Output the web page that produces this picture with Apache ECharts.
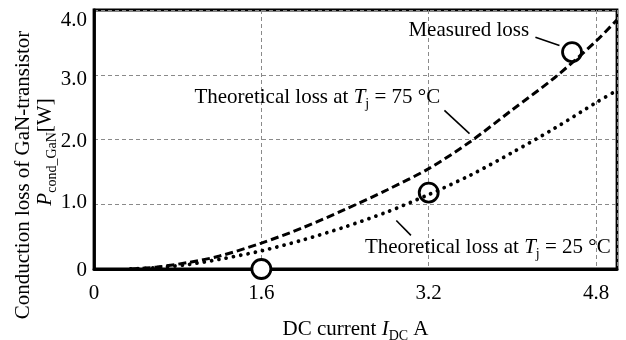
<!DOCTYPE html>
<html>
<head>
<meta charset="utf-8">
<script src="https://cdn.jsdelivr.net/npm/echarts@6/dist/echarts.min.js"></script>
<style>html,body{margin:0;padding:0;background:#fff;}#c{width:626px;height:340px;}</style>
</head>
<body>
<div id="c"></div>
<script>
// ---- data ----
const currentA = [0.35, 0.6, 0.9, 1.2, 1.6, 2.0, 2.4, 2.8, 3.2, 3.6, 4.0, 4.4, 4.8, 5.0];
const loss75 = [0, 0.03, 0.1, 0.2, 0.4, 0.64, 0.92, 1.22, 1.55, 1.97, 2.46, 2.95, 3.52, 3.85];
const loss25 = [0, 0.02, 0.07, 0.15, 0.28, 0.45, 0.65, 0.88, 1.15, 1.45, 1.8, 2.17, 2.57, 2.76];
const measuredI = [1.6, 3.2, 4.57];
const measuredP = [0, 1.18, 3.35];
const xTicks = [0, 1.6, 3.2, 4.8];
const xTickLabels = ['0', '1.6', '3.2', '4.8'];
const yTicks = [0, 1, 2, 3, 4];
const yTickLabels = ['0', '1.0', '2.0', '3.0', '4.0'];

const FONT = 'Liberation Serif';
const chart = echarts.init(document.getElementById('c'), null, {renderer: 'canvas'});

const pairs = (xs, ys) => xs.map((x, i) => [x, ys[i]]);

const richStyles = {
  it: {fontFamily: FONT, fontSize: 21, fontStyle: 'italic', color: '#000', lineHeight: 28},
  n: {fontFamily: FONT, fontSize: 21, color: '#000', lineHeight: 28},
  sub: {fontFamily: FONT, fontSize: 14, color: '#000', verticalAlign: 'bottom', lineHeight: 14}
};

// small vertical nudges of the y tick labels, as printed in the original
const yLabelRich = {
  t0: {fontFamily: FONT, fontSize: 21, color: '#000', padding: [2, 0, 0, 0]},
  t1: {fontFamily: FONT, fontSize: 21, color: '#000', padding: [0, 0, 3, 0]},
  t2: {fontFamily: FONT, fontSize: 21, color: '#000', padding: [4, 0, 0, 0]},
  t3: {fontFamily: FONT, fontSize: 21, color: '#000', padding: [10, 0, 0, 0]},
  t4: {fontFamily: FONT, fontSize: 21, color: '#000', padding: [20, 0, 0, 0]}
};

const leaderStyle = {color: '#000', width: 1.6, type: 'solid'};

chart.setOption({
  animation: false,
  backgroundColor: '#fff',
  grid: {left: 94, right: 9, top: 10, bottom: 71, containLabel: false, outerBoundsMode: 'none',
    show: true, borderColor: '#000', borderWidth: 2.8, backgroundColor: 'transparent'},
  xAxis: {
    type: 'value', min: 0, max: 5.0, interval: 1.6,
    axisLine: {show: true, lineStyle: {color: '#000', width: 2.8}},
    axisTick: {show: false},
    splitLine: {show: true, lineStyle: {color: '#8a8a8a', width: 1, type: [4, 3]}},
    axisLabel: {
      color: '#000', fontFamily: FONT, fontSize: 21, margin: 14,
      formatter: v => { const i = xTicks.findIndex(t => Math.abs(t - v) < 1e-6); return i >= 0 ? xTickLabels[i] : ''; }
    },
    name: '{n|DC current }{it|I}{sub|DC}{n| A}',
    nameLocation: 'middle', nameGap: 46,
    nameTextStyle: {rich: richStyles}
  },
  yAxis: {
    type: 'value', min: 0, max: 4, interval: 1,
    axisLine: {show: true, lineStyle: {color: '#000', width: 2.8}},
    axisTick: {show: false},
    splitLine: {show: true, lineStyle: {color: '#8a8a8a', width: 1, type: [4, 3]}},
    axisLabel: {
      color: '#000', fontFamily: FONT, fontSize: 21, margin: 7, rich: yLabelRich,
      formatter: v => { const i = yTicks.indexOf(Math.round(v)); return i >= 0 ? '{t' + i + '|' + yTickLabels[i] + '}' : ''; }
    }
  },
  series: [
    {
      name: 'Measured loss', type: 'scatter', data: pairs(measuredI, measuredP),
      symbol: 'circle', symbolSize: 19, z: 3,
      itemStyle: {color: '#fff', borderColor: '#000', borderWidth: 2.8, opacity: 1},
      emphasis: {disabled: true}
    },
    {
      name: '75', type: 'line', data: pairs(currentA, loss75), smooth: 0.3,
      showSymbol: false, z: 4,
      lineStyle: {color: '#000', width: 3, type: [8, 4]},
      markLine: {
        silent: true, symbol: 'none', label: {show: false}, lineStyle: leaderStyle,
        emphasis: {disabled: true},
        data: [
          [{coord: [4.22, 3.58]}, {coord: [4.45, 3.45]}],
          [{coord: [3.35, 2.45]}, {coord: [3.59, 2.09]}],
          [{coord: [2.89, 0.75]}, {coord: [3.03, 0.52]}]
        ]
      }
    },
    {
      name: '25', type: 'line', data: pairs(currentA, loss25), smooth: 0.3,
      showSymbol: false, z: 4,
      lineStyle: {color: '#000', width: 3.8, type: [0.01, 7.4], cap: 'round'}
    }
  ]
});

// ---- annotations (anchored in data coordinates) ----
const notes = [
  {at: [4.16, 3.68], text: '{n|Measured loss}', align: 'right'},
  {at: [3.31, 2.65], text: '{n|Theoretical loss at }{it|T}{sub|j}{n| = 75 °C}', align: 'right'},
  {at: [4.94, 0.34], text: '{n|Theoretical loss at }{it|T}{sub|j}{n| = 25 °C}', align: 'right'}
];
const graphics = notes.map(n => {
  const p = chart.convertToPixel({gridIndex: 0}, n.at);
  return {type: 'text', x: p[0], y: p[1], z: 10,
    style: {text: n.text, rich: richStyles, align: n.align, verticalAlign: 'middle', fill: '#000', font: '21px ' + FONT}};
});
graphics.push({type: 'text', x: 23, y: 175, rotation: Math.PI / 2, z: 10,
  style: {text: '{n|Conduction loss of GaN-transistor}', rich: richStyles, align: 'center', verticalAlign: 'middle'}});
graphics.push({type: 'text', x: 45, y: 152, rotation: Math.PI / 2, z: 10,
  style: {text: '{it|P}{sub|cond_GaN}{n|[W]}', rich: richStyles, align: 'center', verticalAlign: 'middle'}});
chart.setOption({graphic: graphics});
</script>
</body>
</html>
